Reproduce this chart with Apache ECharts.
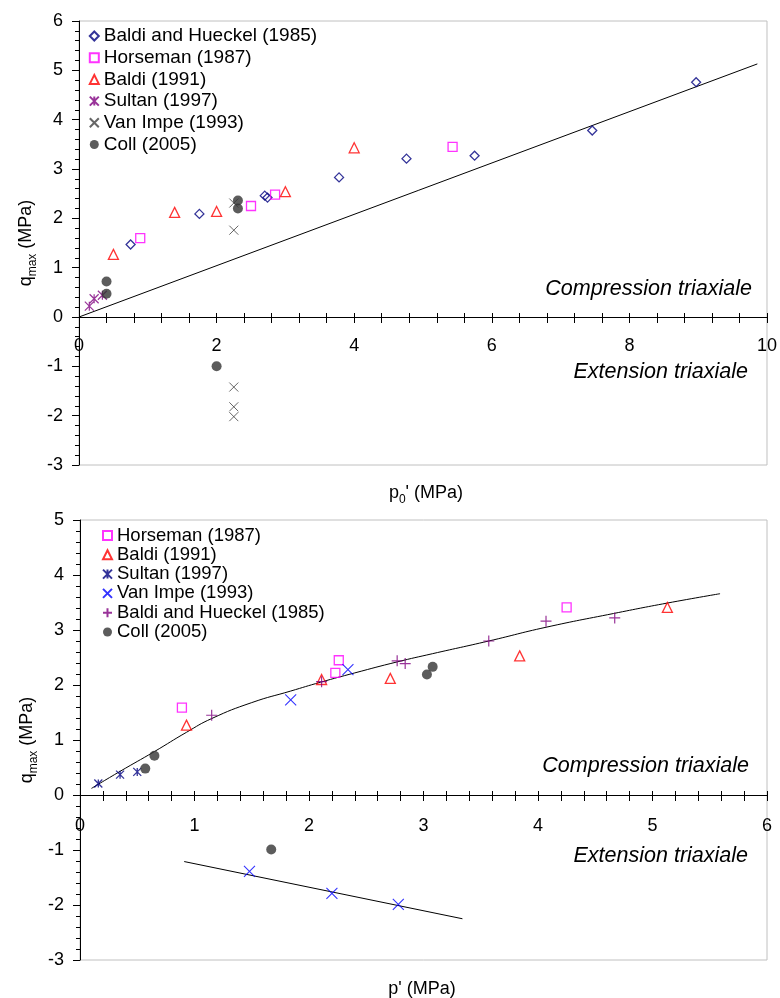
<!DOCTYPE html>
<html><head><meta charset="utf-8">
<script src="https://cdn.jsdelivr.net/npm/echarts@6/dist/echarts.min.js"></script>
<style>
body{margin:0;background:#fff}
#c1{position:absolute;left:0;top:0;width:780px;height:505px}
#c2{position:absolute;left:0;top:505px;width:780px;height:493px}
</style>
</head><body><div id="c1"></div><div id="c2"></div>
<script>
// ---------- Top chart data (x = p0' MPa, y = qmax MPa) ----------
const topXTicks = [0, 2, 4, 6, 8, 10];
const topYTicks = [-3, -2, -1, 0, 1, 2, 3, 4, 5, 6];
const topBHx = [0.75, 1.75, 2.70, 2.74, 3.78, 4.76, 5.75, 7.46, 8.97];
const topBHy = [1.47, 2.09, 2.46, 2.42, 2.83, 3.21, 3.27, 3.78, 4.76];
const topHorsemanX = [0.89, 2.50, 2.85, 5.43];
const topHorsemanY = [1.60, 2.25, 2.48, 3.45];
const topBaldiX = [0.50, 1.39, 2.00, 3.00, 4.00];
const topBaldiY = [1.27, 2.12, 2.14, 2.54, 3.43];
const topSultanX = [0.15, 0.22, 0.34];
const topSultanY = [0.22, 0.37, 0.44];
const topVanImpeX = [2.25, 2.25, 2.25, 2.25, 2.25];
const topVanImpeY = [2.31, 1.76, -1.42, -1.82, -2.02];
const topCollX = [0.40, 0.40, 2.31, 2.31, 2.00];
const topCollY = [0.47, 0.72, 2.20, 2.36, -1.00];
const topLineX = [0, 9.86];
const topLineY = [0, 5.13];

// ---------- Bottom chart data (x = p' MPa, y = qmax MPa) ----------
const botXTicks = [0, 1, 2, 3, 4, 5, 6];
const botYTicks = [-3, -2, -1, 0, 1, 2, 3, 4, 5];
const botHorsemanX = [0.89, 2.23, 2.26, 4.25];
const botHorsemanY = [1.59, 2.22, 2.45, 3.41];
const botBaldiX = [0.93, 2.11, 2.71, 3.84, 5.13];
const botBaldiY = [1.27, 2.10, 2.12, 2.53, 3.41];
const botSultanX = [0.16, 0.35, 0.50];
const botSultanY = [0.21, 0.37, 0.42];
const botVanImpeX = [1.84, 2.34, 1.48, 2.20, 2.78];
const botVanImpeY = [1.73, 2.28, -1.39, -1.79, -1.99];
const botBHx = [1.15, 2.11, 2.77, 2.84, 3.57, 4.07, 4.67];
const botBHy = [1.45, 2.06, 2.44, 2.39, 2.80, 3.16, 3.22];
const botCollX = [0.57, 0.65, 3.03, 3.08, 1.67];
const botCollY = [0.48, 0.715, 2.19, 2.33, -0.99];
const botCurveX = [0.10, 0.35, 0.65, 0.93, 1.15, 1.50, 1.84, 2.10, 2.40, 2.77, 3.08, 3.57, 4.07, 4.66, 5.13, 5.59];
const botCurveY = [0.12, 0.43, 0.79, 1.14, 1.39, 1.68, 1.89, 2.05, 2.22, 2.42, 2.57, 2.80, 3.05, 3.30, 3.49, 3.66];
const botExtX = [0.91, 3.34];
const botExtY = [-1.21, -2.25];

// ---------- helpers ----------
const zip = (xs, ys) => xs.map((x, i) => [x, ys[i]]);
const FONT = 'Liberation Sans, Arial, sans-serif';
const SYM_X = 'path://M0,0L10,10M10,0L0,10';
const SYM_PLUS = 'path://M5,0L5,10M0,5L10,5';
const SYM_AST = 'path://M0,0L10,10M10,0L0,10M5,0L5,10';

function hollow(name, data, symbol, size, color, bw) {
  return { name, type: 'scatter', data, symbol, symbolSize: size, z: 3,
    itemStyle: { color: 'rgba(0,0,0,0)', borderColor: color, borderWidth: bw || 1.3 } };
}
function strokeSym(name, data, symbol, size, color, bw) {
  return { name, type: 'scatter', data, symbol, symbolSize: size, z: 3,
    itemStyle: { color: color, borderColor: color, borderWidth: bw || 1.2 } };
}
function filled(name, data, size, color) {
  return { name, type: 'scatter', data, symbol: 'circle', symbolSize: size, z: 3,
    itemStyle: { color: color } };
}
function lineS(data, smooth) {
  return { type: 'line', data, showSymbol: false, symbol: 'none', smooth: smooth || false, silent: true, z: 2,
    lineStyle: { color: '#000', width: 1 } };
}

// x axis drawn through y = 0 (offset computed from the y range and grid height)
function axesFor(xTicks, yTicks, yName, gridH) {
  const xmin = xTicks[0], xmax = xTicks[xTicks.length - 1], xint = xTicks[1] - xTicks[0];
  const ymin = yTicks[0], ymax = yTicks[yTicks.length - 1];
  const zeroOffset = -((0 - ymin) / (ymax - ymin)) * gridH;
  const xAxis = [{
    type: 'value', min: xmin, max: xmax, interval: xint, position: 'bottom', offset: zeroOffset,
    axisLine: { show: true, onZero: false, lineStyle: { color: '#000', width: 1 } },
    axisTick: { show: true, length: 6, lineStyle: { color: '#000' } },
    minorTick: { show: true, splitNumber: 5, length: 6, lineStyle: { color: '#000' } },
    splitLine: { show: false },
    axisLabel: { fontSize: 18, color: '#000', fontFamily: FONT, margin: 20, showMinLabel: true, showMaxLabel: true }
  }, {
    type: 'value', min: xmin, max: xmax, interval: xint, position: 'bottom', offset: zeroOffset,
    axisLine: { show: false, onZero: false },
    axisTick: { show: true, inside: true, length: 4, lineStyle: { color: '#000' } },
    minorTick: { show: true, splitNumber: 5, length: 4, lineStyle: { color: '#000' } },
    splitLine: { show: false },
    axisLabel: { show: false }
  }];
  const yAxis = [{
    type: 'value', min: ymin, max: ymax, interval: 1,
    axisLine: { show: true, onZero: false, lineStyle: { color: '#000', width: 1 } },
    axisTick: { show: true, length: 7, lineStyle: { color: '#000' } },
    minorTick: { show: true, splitNumber: 5, length: 4, lineStyle: { color: '#000' } },
    splitLine: { show: false },
    axisLabel: { fontSize: 18, color: '#000', fontFamily: FONT, margin: 16 },
    name: yName, nameLocation: 'middle', nameRotate: 90, nameGap: 40, nameMoveOverlap: false,
    nameTextStyle: { color: '#000', fontFamily: FONT,
      rich: {
        n: { fontSize: 18, lineHeight: 22, verticalAlign: 'top', fontFamily: FONT, color: '#000' },
        s: { fontSize: 12, lineHeight: 10, verticalAlign: 'bottom', fontFamily: FONT, color: '#000' }
      } }
  }];
  return { xAxis, yAxis };
}

function txt(x, y, text, opts) {
  return Object.assign({ type: 'text', x, y, silent: true,
    style: Object.assign({ text, fill: '#000', fontSize: 20, fontFamily: FONT,
      align: 'center', verticalAlign: 'middle' }, opts || {}) });
}

// ---------- Top chart ----------
const c1 = echarts.init(document.getElementById('c1'));
const a1 = axesFor(topXTicks, topYTicks, '{n|q}{s|max}{n| (MPa)}', 444);
const topNames = ['Baldi and Hueckel (1985)', 'Horseman (1987)', 'Baldi (1991)', 'Sultan (1997)', 'Van Impe (1993)', 'Coll (2005)'];
c1.setOption({
  animation: false,
  backgroundColor: '#fff',
  grid: { left: 79, right: 13, top: 21, height: 444, show: true, borderColor: '#c0c0c0', borderWidth: 1 },
  xAxis: a1.xAxis, yAxis: a1.yAxis,
  legend: {
    data: topNames, orient: 'vertical', left: 88.8, top: 25.5, padding: 0,
    itemWidth: 9, itemHeight: 9, itemGap: 0.7, selectedMode: false,
    textStyle: { fontSize: 19, lineHeight: 21, color: '#000', fontFamily: FONT }
  },
  series: [
    lineS(zip(topLineX, topLineY)),
    hollow(topNames[0], zip(topBHx, topBHy), 'diamond', 9, '#000080', 1.3),
    hollow(topNames[1], zip(topHorsemanX, topHorsemanY), 'rect', 9, '#FF00FF', 1.3),
    hollow(topNames[2], zip(topBaldiX, topBaldiY), 'triangle', 10, '#FF0000', 1.3),
    strokeSym(topNames[3], zip(topSultanX, topSultanY), SYM_AST, 9, '#800080', 1.2),
    strokeSym(topNames[4], zip(topVanImpeX, topVanImpeY), SYM_X, 9, '#404040', 1),
    filled(topNames[5], zip(topCollX, topCollY), 10, '#333333')
  ],
  graphic: [
    txt(752, 289, 'Compression triaxiale', { align: 'right', fontStyle: 'italic', fontSize: 21.5 }),
    txt(748, 372, 'Extension triaxiale', { align: 'right', fontStyle: 'italic', fontSize: 21.5 }),
    txt(426, 495, '{n|p}{s|0}{n|\' (MPa)}', { rich: {
      n: { fontSize: 18, lineHeight: 22, verticalAlign: 'top', fontFamily: FONT, fill: '#000' },
      s: { fontSize: 12, lineHeight: 10, verticalAlign: 'bottom', fontFamily: FONT, fill: '#000' } } })
  ]
});

// ---------- Bottom chart ----------
const c2 = echarts.init(document.getElementById('c2'));
const a2 = axesFor(botXTicks, botYTicks, '{n|q}{s|max}{n| (MPa)}', 440);
const botNames = ['Horseman (1987)', 'Baldi (1991)', 'Sultan (1997)', 'Van Impe (1993)', 'Baldi and Hueckel (1985)', 'Coll (2005)'];
a2.xAxis[0].axisLabel.margin = 22;
c2.setOption({
  animation: false,
  backgroundColor: '#fff',
  grid: { left: 80, right: 13, top: 15, height: 440, show: true, borderColor: '#c0c0c0', borderWidth: 1 },
  xAxis: a2.xAxis, yAxis: a2.yAxis,
  legend: {
    data: botNames, orient: 'vertical', left: 102, top: 21, padding: 0,
    itemWidth: 9, itemHeight: 9, itemGap: 0.3, selectedMode: false,
    textStyle: { fontSize: 18.5, lineHeight: 18, color: '#000', fontFamily: FONT }
  },
  series: [
    lineS(zip(botCurveX, botCurveY), true),
    lineS(zip(botExtX, botExtY)),
    hollow(botNames[0], zip(botHorsemanX, botHorsemanY), 'rect', 9, '#FF00FF', 1.3),
    hollow(botNames[1], zip(botBaldiX, botBaldiY), 'triangle', 10, '#FF0000', 1.3),
    strokeSym(botNames[2], zip(botSultanX, botSultanY), SYM_AST, 8, '#000080', 1.3),
    strokeSym(botNames[3], zip(botVanImpeX, botVanImpeY), SYM_X, 11, '#0000FF', 1.1),
    strokeSym(botNames[4], zip(botBHx, botBHy), SYM_PLUS, 11, '#800080', 1.2),
    filled(botNames[5], zip(botCollX, botCollY), 10, '#333333')
  ],
  graphic: [
    txt(749, 261, 'Compression triaxiale', { align: 'right', fontStyle: 'italic', fontSize: 21.5 }),
    txt(748, 351, 'Extension triaxiale', { align: 'right', fontStyle: 'italic', fontSize: 21.5 }),
    txt(422, 484, '{n|p\' (MPa)}', { rich: {
      n: { fontSize: 18, lineHeight: 22, fontFamily: FONT, fill: '#000' } } })
  ]
});
</script>
</body></html>
